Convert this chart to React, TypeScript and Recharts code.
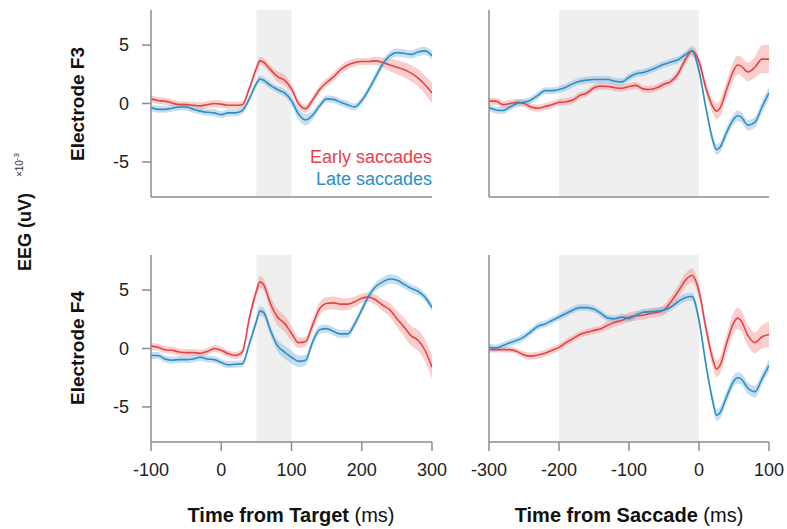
import React from "react";
import { ComposedChart, Line, Area, XAxis, YAxis, ReferenceArea } from "recharts";

// time bases (ms)
const targetTimes = [-100, -90, -80, -70, -60, -50, -40, -30, -20, -10, 0, 10, 20, 30, 40, 50, 55, 60, 70, 80, 90, 100, 110, 120, 130, 140, 150, 160, 170, 180, 190, 200, 210, 220, 230, 240, 250, 260, 270, 280, 290, 300];
const saccadeTimes = [-300, -290, -280, -270, -260, -250, -240, -230, -220, -210, -200, -190, -180, -170, -160, -150, -140, -130, -120, -110, -100, -90, -80, -70, -60, -50, -40, -30, -20, -10, 0, 10, 20, 25, 30, 40, 50, 55, 60, 70, 80, 90, 100];

const targetTicks = [-100, 0, 100, 200, 300];
const saccadeTicks = [-300, -200, -100, 0, 100];
const yTicks = [-5, 0, 5];
const seriesNames = ["Early saccades", "Late saccades"];

// Electrode F3, aligned to target
const f3TargetEarly = [0.4, 0.25, 0.2, 0.05, -0.1, -0.1, -0.15, -0.2, -0.1, 0.0, -0.05, -0.15, -0.15, -0.1, 1.3, 3.0, 3.65, 3.55, 2.9, 2.3, 2.0, 1.25, 0.0, -0.45, 0.3, 1.2, 1.8, 2.3, 2.9, 3.3, 3.5, 3.6, 3.6, 3.65, 3.5, 3.3, 3.1, 2.9, 2.6, 2.2, 1.6, 0.9];
const f3TargetEarlyErr = [0.3, 0.3, 0.3, 0.3, 0.3, 0.3, 0.3, 0.3, 0.3, 0.3, 0.3, 0.3, 0.3, 0.3, 0.3, 0.35, 0.35, 0.35, 0.35, 0.45, 0.45, 0.4, 0.35, 0.35, 0.35, 0.35, 0.35, 0.35, 0.35, 0.35, 0.35, 0.3, 0.3, 0.35, 0.45, 0.55, 0.6, 0.65, 0.7, 0.75, 0.8, 0.9];
const f3TargetLate = [-0.35, -0.5, -0.5, -0.4, -0.3, -0.3, -0.5, -0.65, -0.75, -0.8, -0.95, -0.8, -0.8, -0.6, 0.4, 1.7, 2.1, 2.0, 1.55, 1.2, 0.9, 0.25, -0.9, -1.4, -1.0, -0.2, 0.4, 0.35, 0.1, -0.1, -0.3, 0.25, 1.2, 2.3, 3.4, 4.1, 4.35, 4.3, 4.2, 4.4, 4.5, 4.1];
const f3TargetLateErr = [0.3, 0.3, 0.3, 0.3, 0.3, 0.3, 0.3, 0.3, 0.3, 0.3, 0.3, 0.3, 0.3, 0.3, 0.3, 0.3, 0.3, 0.3, 0.3, 0.3, 0.35, 0.4, 0.5, 0.5, 0.4, 0.3, 0.3, 0.3, 0.3, 0.3, 0.3, 0.3, 0.3, 0.35, 0.35, 0.35, 0.35, 0.35, 0.35, 0.35, 0.35, 0.35];

// Electrode F3, aligned to saccade
const f3SaccadeEarly = [0.2, 0.2, -0.1, 0.0, 0.1, 0.0, -0.3, -0.4, -0.25, -0.1, 0.1, 0.15, 0.3, 0.7, 0.9, 1.35, 1.5, 1.45, 1.35, 1.3, 1.45, 1.55, 1.25, 1.2, 1.35, 1.65, 1.9, 2.55, 3.7, 4.5, 3.6, 1.3, -0.3, -0.65, -0.4, 1.3, 2.9, 3.3, 3.2, 2.7, 3.1, 3.8, 3.8];
const f3SaccadeEarlyErr = [0.3, 0.3, 0.3, 0.3, 0.3, 0.3, 0.3, 0.3, 0.3, 0.3, 0.3, 0.3, 0.3, 0.3, 0.3, 0.3, 0.3, 0.3, 0.3, 0.3, 0.3, 0.3, 0.3, 0.3, 0.3, 0.3, 0.3, 0.35, 0.4, 0.45, 0.45, 0.5, 0.6, 0.7, 0.7, 0.75, 0.8, 0.8, 0.8, 0.8, 0.9, 1.2, 1.2];
const f3SaccadeLate = [-0.35, -0.55, -0.6, -0.3, 0.0, 0.1, 0.3, 0.7, 1.1, 1.1, 1.2, 1.4, 1.7, 1.9, 2.0, 2.05, 2.05, 2.05, 1.9, 1.85, 2.25, 2.55, 2.65, 2.85, 3.1, 3.35, 3.55, 3.75, 4.15, 4.5, 2.8, -0.4, -3.2, -3.95, -3.75, -2.4, -1.3, -1.05, -1.15, -1.85, -1.6, -0.3, 0.9];
const f3SaccadeLateErr = [0.3, 0.3, 0.3, 0.3, 0.3, 0.3, 0.3, 0.3, 0.3, 0.3, 0.3, 0.3, 0.3, 0.3, 0.3, 0.3, 0.3, 0.3, 0.3, 0.3, 0.3, 0.3, 0.3, 0.3, 0.3, 0.3, 0.3, 0.3, 0.3, 0.3, 0.35, 0.4, 0.45, 0.45, 0.45, 0.45, 0.45, 0.45, 0.45, 0.45, 0.45, 0.5, 0.5];

// Electrode F4, aligned to target
const f4TargetEarly = [0.2, 0.1, -0.1, -0.15, -0.3, -0.35, -0.35, -0.4, -0.25, 0.0, -0.15, -0.45, -0.6, -0.3, 2.6, 4.9, 5.7, 5.5, 3.85, 2.7, 2.15, 1.3, 0.5, 0.6, 2.0, 3.4, 3.85, 3.9, 3.8, 3.8, 4.0, 4.3, 4.4, 4.15, 3.7, 3.3, 2.55, 1.85, 1.1, 0.7, -0.15, -1.6];
const f4TargetEarlyErr = [0.3, 0.3, 0.3, 0.3, 0.3, 0.3, 0.3, 0.3, 0.3, 0.3, 0.3, 0.3, 0.3, 0.3, 0.4, 0.45, 0.5, 0.5, 0.6, 0.7, 0.7, 0.65, 0.45, 0.4, 0.5, 0.55, 0.55, 0.55, 0.55, 0.5, 0.45, 0.4, 0.4, 0.45, 0.5, 0.6, 0.7, 0.8, 0.85, 0.9, 0.95, 1.0];
const f4TargetLate = [-0.6, -0.6, -0.9, -1.0, -0.95, -0.95, -0.9, -0.75, -0.9, -0.95, -1.2, -1.4, -1.35, -1.3, 0.4, 2.3, 3.2, 3.1, 1.55, 0.25, -0.3, -0.75, -1.1, -1.0, 0.55, 1.6, 1.7, 1.45, 1.25, 1.25, 2.1, 3.3, 4.5, 5.3, 5.7, 5.95, 5.85, 5.5, 5.15, 4.9, 4.4, 3.5];
const f4TargetLateErr = [0.3, 0.3, 0.3, 0.3, 0.3, 0.3, 0.3, 0.3, 0.3, 0.3, 0.3, 0.3, 0.3, 0.3, 0.35, 0.4, 0.4, 0.4, 0.45, 0.5, 0.55, 0.55, 0.5, 0.45, 0.4, 0.35, 0.35, 0.35, 0.35, 0.35, 0.35, 0.35, 0.35, 0.35, 0.4, 0.4, 0.4, 0.35, 0.35, 0.35, 0.35, 0.35];

// Electrode F4, aligned to saccade
const f4SaccadeEarly = [-0.1, -0.1, -0.1, -0.1, -0.25, -0.55, -0.65, -0.55, -0.4, -0.15, 0.1, 0.5, 0.85, 1.2, 1.4, 1.55, 1.7, 2.0, 2.25, 2.4, 2.7, 2.8, 2.85, 3.0, 3.1, 3.3, 4.0, 4.85, 5.8, 6.25, 4.9, 1.7, -1.0, -1.75, -1.45, 0.55, 2.25, 2.6, 2.4, 1.1, 0.5, 1.0, 1.2];
const f4SaccadeEarlyErr = [0.25, 0.25, 0.25, 0.25, 0.25, 0.3, 0.3, 0.3, 0.3, 0.3, 0.3, 0.3, 0.3, 0.3, 0.3, 0.3, 0.3, 0.35, 0.35, 0.35, 0.4, 0.4, 0.4, 0.4, 0.4, 0.45, 0.5, 0.55, 0.6, 0.6, 0.6, 0.6, 0.65, 0.7, 0.7, 0.8, 0.9, 0.9, 0.9, 0.9, 0.9, 1.0, 1.1];
const f4SaccadeLate = [0.1, 0.05, 0.25, 0.5, 0.7, 1.0, 1.45, 1.9, 2.1, 2.4, 2.7, 3.0, 3.3, 3.5, 3.5, 3.35, 3.0, 2.6, 2.55, 2.7, 2.55, 2.85, 3.1, 3.15, 3.2, 3.3, 3.55, 4.0, 4.35, 4.45, 2.4, -1.4, -4.6, -5.7, -5.5, -4.05, -2.75, -2.5, -2.6, -3.4, -3.7, -2.6, -1.45];
const f4SaccadeLateErr = [0.3, 0.3, 0.3, 0.3, 0.3, 0.3, 0.3, 0.3, 0.3, 0.3, 0.3, 0.3, 0.3, 0.3, 0.3, 0.3, 0.3, 0.3, 0.3, 0.3, 0.3, 0.3, 0.3, 0.3, 0.3, 0.3, 0.3, 0.35, 0.35, 0.35, 0.4, 0.45, 0.5, 0.5, 0.5, 0.5, 0.5, 0.5, 0.5, 0.5, 0.5, 0.5, 0.5];

const RED = "#e8404a";
const BLUE = "#2a8fc6";
const FONT = "'Liberation Sans', Arial, Helvetica, sans-serif";
const AXIS = "#8c8c8c";

const makeRows = (times: number[], early: number[], earlyErr: number[], late: number[], lateErr: number[]) =>
  times.map((t, i) => ({
    t,
    early: early[i],
    late: late[i],
    earlyBand: [early[i] - earlyErr[i], early[i] + earlyErr[i]],
    lateBand: [late[i] - lateErr[i], late[i] + lateErr[i]],
  }));

const ML = 60;
const MT = 5;
const MR = 30;
const XH = 60;
const PLOT_H = 187;

function Panel(props: any) {
  const { left, top, plotW, rows, domain, ticks, shade, xLabels, yLabels } = props;
  const tickStyle = { fill: "#222", fontSize: 18, fontFamily: FONT };
  return (
    <div style={{ position: "absolute", left: left - ML, top: top - MT }}>
      <ComposedChart
        width={ML + plotW + MR}
        height={MT + PLOT_H + XH}
        data={rows}
        margin={{ top: MT, right: MR, left: 0, bottom: 0 }}
      >
        <ReferenceArea x1={shade[0]} x2={shade[1]} fill="#efefef" fillOpacity={1} stroke="none" />
        <XAxis
          type="number"
          dataKey="t"
          domain={domain}
          ticks={ticks}
          interval={0}
          allowDataOverflow
          height={XH}
          tick={xLabels ? tickStyle : false}
          tickSize={9}
          tickMargin={12}
          axisLine={{ stroke: AXIS, strokeWidth: 1.5 }}
          tickLine={{ stroke: AXIS, strokeWidth: 1.5 }}
        />
        <YAxis
          type="number"
          domain={[-8, 8]}
          ticks={yTicks}
          interval={0}
          allowDataOverflow
          width={ML}
          tick={yLabels ? tickStyle : false}
          tickSize={9}
          tickMargin={13}
          axisLine={{ stroke: AXIS, strokeWidth: 1.5 }}
          tickLine={{ stroke: AXIS, strokeWidth: 1.5 }}
        />
        <Area type="monotone" dataKey="earlyBand" fill="#f2958c" fillOpacity={0.45} stroke="none" dot={false} activeDot={false} isAnimationActive={false} />
        <Area type="monotone" dataKey="lateBand" fill="#84b6de" fillOpacity={0.45} stroke="none" dot={false} activeDot={false} isAnimationActive={false} />
        <Line type="monotone" dataKey="early" stroke={RED} strokeWidth={1.6} dot={false} activeDot={false} isAnimationActive={false} />
        <Line type="monotone" dataKey="late" stroke={BLUE} strokeWidth={1.6} dot={false} activeDot={false} isAnimationActive={false} />
      </ComposedChart>
    </div>
  );
}

export default function App() {
  const f3t = makeRows(targetTimes, f3TargetEarly, f3TargetEarlyErr, f3TargetLate, f3TargetLateErr);
  const f3s = makeRows(saccadeTimes, f3SaccadeEarly, f3SaccadeEarlyErr, f3SaccadeLate, f3SaccadeLateErr);
  const f4t = makeRows(targetTimes, f4TargetEarly, f4TargetEarlyErr, f4TargetLate, f4TargetLateErr);
  const f4s = makeRows(saccadeTimes, f4SaccadeEarly, f4SaccadeEarlyErr, f4SaccadeLate, f4SaccadeLateErr);

  return (
    <div style={{ position: "absolute", left: 0, top: 0, width: 787, height: 529, background: "#fff", fontFamily: FONT, overflow: "hidden" }}>
      <Panel left={151} top={10} plotW={281} rows={f3t} domain={[-100, 300]} ticks={targetTicks} shade={[50, 100]} xLabels={false} yLabels={true} />
      <Panel left={489} top={10} plotW={280} rows={f3s} domain={[-300, 100]} ticks={saccadeTicks} shade={[-200, 0]} xLabels={false} yLabels={false} />
      <Panel left={151} top={255} plotW={281} rows={f4t} domain={[-100, 300]} ticks={targetTicks} shade={[50, 100]} xLabels={true} yLabels={true} />
      <Panel left={489} top={255} plotW={280} rows={f4s} domain={[-300, 100]} ticks={saccadeTicks} shade={[-200, 0]} xLabels={true} yLabels={false} />

      <svg width={787} height={529} style={{ position: "absolute", left: 0, top: 0, pointerEvents: "none" }} fontFamily={FONT}>
        <text x={432} y={163} textAnchor="end" fontSize={18} fill={RED}>{seriesNames[0]}</text>
        <text x={432} y={185} textAnchor="end" fontSize={18} fill={BLUE}>{seriesNames[1]}</text>

        <text transform="translate(84,104) rotate(-90)" textAnchor="middle" fontSize={19} fontWeight="bold" fill="#111">Electrode F3</text>
        <text transform="translate(84,348) rotate(-90)" textAnchor="middle" fontSize={19} fontWeight="bold" fill="#111">Electrode F4</text>
        <text transform="translate(31,232) rotate(-90)" textAnchor="middle" fontSize={18} fontWeight="bold" fill="#111">EEG (uV)</text>
        <text transform="translate(23,165) rotate(-90)" textAnchor="middle" fontSize={10} fill="#333">
          ×10<tspan dy={-4} fontSize={8}>-3</tspan>
        </text>

        <text x={291} y={522} textAnchor="middle" fontSize={20} fill="#111">
          <tspan fontWeight="bold">Time from Target</tspan> (ms)
        </text>
        <text x={629} y={522} textAnchor="middle" fontSize={20} fill="#111">
          <tspan fontWeight="bold">Time from Saccade</tspan> (ms)
        </text>
      </svg>
    </div>
  );
}
